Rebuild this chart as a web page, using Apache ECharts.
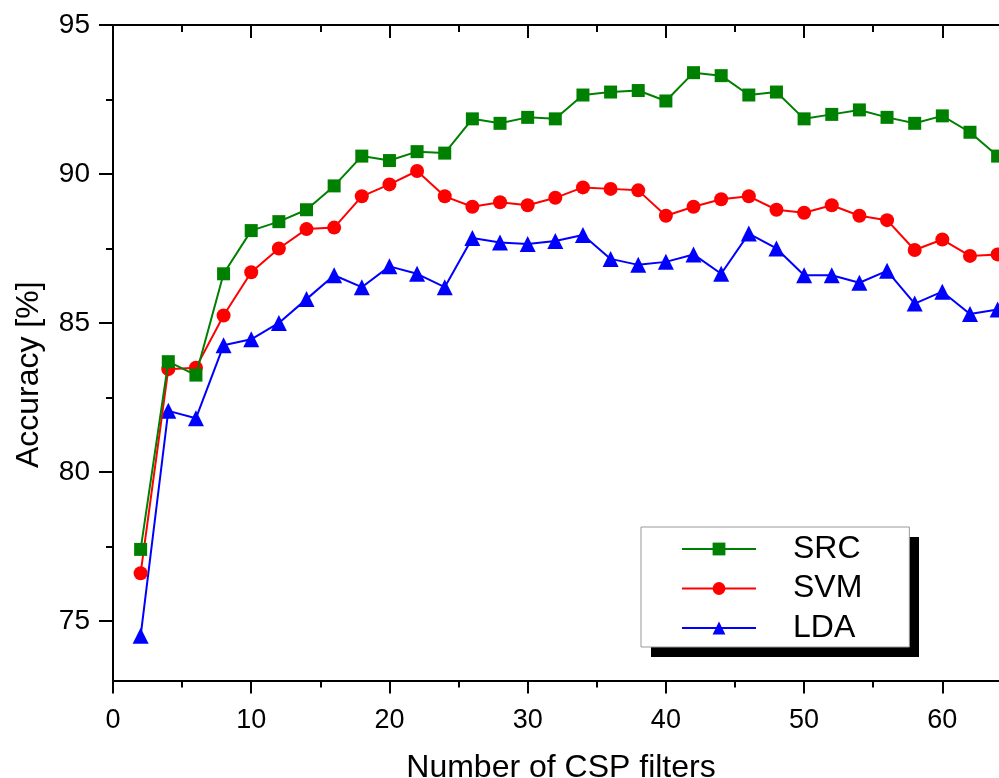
<!DOCTYPE html>
<html>
<head>
<meta charset="utf-8">
<script src="https://cdn.jsdelivr.net/npm/echarts@6.0.0/dist/echarts.min.js"></script>
<style>
html,body{margin:0;padding:0;background:#fff;}
#chart{width:999px;height:778px;}
</style>
</head>
<body>
<div id="chart"></div>
<script>
// ---- data ----
const filters = [2,4,6,8,10,12,14,16,18,20,22,24,26,28,30,32,34,36,38,40,42,44,46,48,50,52,54,56,58,60,62,64];
const src = [77.4,83.7,83.25,86.65,88.1,88.4,88.8,89.6,90.6,90.45,90.75,90.7,91.85,91.7,91.9,91.85,92.65,92.75,92.8,92.45,93.4,93.3,92.65,92.75,91.85,92.0,92.15,91.9,91.7,91.95,91.4,90.6];
const svm = [76.6,83.45,83.5,85.25,86.7,87.5,88.15,88.2,89.25,89.65,90.1,89.25,88.9,89.05,88.95,89.2,89.55,89.5,89.45,88.6,88.9,89.15,89.25,88.8,88.7,88.95,88.6,88.45,87.45,87.8,87.25,87.3];
const lda = [74.5,82.05,81.8,84.25,84.45,85.0,85.8,86.6,86.2,86.9,86.65,86.2,87.85,87.7,87.65,87.75,87.95,87.15,86.95,87.05,87.3,86.65,88.0,87.5,86.6,86.6,86.35,86.75,85.65,86.05,85.3,85.45];
const seriesNames = ['SRC','SVM','LDA'];
const xMajor = [0,10,20,30,40,50,60];
const xMinor = [5,15,25,35,45,55];
const yMajor = [75,80,85,90,95];
const yMinor = [77.5,82.5,87.5,92.5];
const xTitle = 'Number of CSP filters';
const yTitle = 'Accuracy [%]';

const FONT = "'Liberation Sans', Arial, sans-serif";
const XMIN = 0, XMAX = 64.1, YMIN = 73, YMAX = 95;
const gridRect = {left:113, top:25, right:0, bottom:97.5, containLabel:false, outerBoundsMode:'none'};

function pairs(vals){ return filters.map((x,i)=>[x, vals[i]]); }

const axisLineStyle = {show:true, lineStyle:{color:'#000', width:2}};
function xAx(gi, pos, vals, len, inside, showLine, labels){
  return {
    type:'value', gridIndex:gi, position:pos, min:XMIN, max:XMAX,
    axisLine: showLine ? axisLineStyle : {show:false},
    axisTick:{show:true, inside:inside, length:len, customValues:vals, lineStyle:{color:'#000', width:2}},
    axisLabel: labels ? {show:true, customValues:vals, margin:27, color:'#000', fontSize:27, fontFamily:FONT} : {show:false},
    splitLine:{show:false}
  };
}
function yAx(gi, vals, len, showLine, labels){
  return {
    type:'value', gridIndex:gi, position:'left', min:YMIN, max:YMAX,
    axisLine: showLine ? axisLineStyle : {show:false},
    axisTick:{show:true, inside:false, length:len, customValues:vals, lineStyle:{color:'#000', width:2}},
    axisLabel: labels ? {show:true, customValues:vals, margin:23, color:'#000', fontSize:28, fontFamily:FONT} : {show:false},
    splitLine:{show:false}
  };
}

const xAxes = [
  Object.assign(xAx(0,'bottom',xMajor,13,false,true,true), {
    name:xTitle, nameLocation:'middle', nameGap:72,
    nameTextStyle:{color:'#000', fontSize:32, fontFamily:FONT, padding:[0,0,0,10]}
  }),
  xAx(1,'bottom',xMinor,7,false,false,false),
  xAx(2,'top',xMajor,13,true,true,false),
  xAx(3,'top',xMinor,7,true,false,false)
];
const yAxes = [
  Object.assign(yAx(0,yMajor,14,true,true), {
    name:yTitle, nameLocation:'middle', nameGap:68,
    nameTextStyle:{color:'#000', fontSize:32, fontFamily:FONT, padding:[0,44,0,0]}
  }),
  yAx(1,yMinor,7,false,false),
  Object.assign(yAx(2,[],0,false,false), {show:false}),
  Object.assign(yAx(3,[],0,false,false), {show:false})
];

const colors = ['#008000','#ff0000','#0000ff'];
const symbols = ['rect','circle','triangle'];
const sizes = [13,14,16];
const values = [src, svm, lda];

const option = {
  animation:false,
  backgroundColor:'#fff',
  grid:[0,1,2,3].map(()=>Object.assign({}, gridRect)),
  xAxis:xAxes,
  yAxis:yAxes,
  graphic:[{
    type:'rect', z:5, silent:true,
    shape:{x:651, y:537, width:268, height:120},
    style:{fill:'#000'}
  }],
  legend:{
    z:10,
    orient:'vertical', left:641, top:527,
    padding:[6,47,3,40],
    itemWidth:74, itemHeight:16, itemGap:7.5,
    backgroundColor:'#fff', borderColor:'#999', borderWidth:1,
    textStyle:{color:'#000', fontSize:32, fontFamily:FONT, lineHeight:32, padding:[0,0,0,32]},
    data:seriesNames
  },
  series: seriesNames.map((n,i)=>({
    name:n, type:'line', xAxisIndex:0, yAxisIndex:0,
    data:pairs(values[i]),
    symbol:symbols[i], symbolSize:sizes[i], showAllSymbol:true,
    lineStyle:{color:colors[i], width:2},
    itemStyle:{color:colors[i]},
    z:3-i
  }))
};

const chart = echarts.init(document.getElementById('chart'), null, {renderer:'canvas'});
chart.setOption(option);
</script>
</body>
</html>
